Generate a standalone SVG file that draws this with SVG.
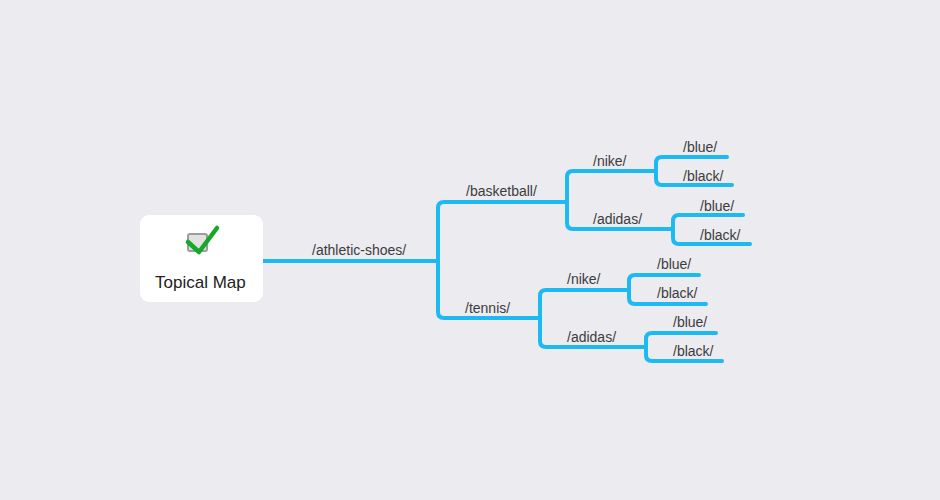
<svg xmlns="http://www.w3.org/2000/svg" width="940" height="500" viewBox="0 0 940 500">
<style>
.bg{fill:#ebebf0}
.card{fill:#ffffff}
.ln{fill:none;stroke:#1cb9f2;stroke-width:4;stroke-linecap:round;stroke-linejoin:round}
.lbl{font-family:"Liberation Sans",Arial,sans-serif;font-size:14px;fill:#3c3c3c}
.title{font-family:"Liberation Sans",Arial,sans-serif;font-size:17px;fill:#222}
</style>
<rect class="bg" x="0" y="0" width="940" height="500"/>
<g id="connectors">
<path class="ln" d="M263 261 H438"/>
<path class="ln" d="M438 261 V208 Q438 202 444 202 H567"/>
<path class="ln" d="M438 261 V312 Q438 318 444 318 H540"/>
<path class="ln" d="M567 202 V177 Q567 171 573 171 H656"/>
<path class="ln" d="M567 202 V223 Q567 229 573 229 H673"/>
<path class="ln" d="M656 171 V163 Q656 157 662 157 H727"/>
<path class="ln" d="M656 171 V179 Q656 185 662 185 H732"/>
<path class="ln" d="M673 229 V221 Q673 215 679 215 H743"/>
<path class="ln" d="M673 229 V238 Q673 244 679 244 H750"/>
<path class="ln" d="M540 318 V296 Q540 290 546 290 H629"/>
<path class="ln" d="M540 318 V341 Q540 347 546 347 H646"/>
<path class="ln" d="M629 290 V281 Q629 275 635 275 H699"/>
<path class="ln" d="M629 290 V298 Q629 304 635 304 H706"/>
<path class="ln" d="M646 347 V339 Q646 333 652 333 H716"/>
<path class="ln" d="M646 347 V355 Q646 361 652 361 H722"/>
</g>
<g id="root">
<rect class="card" x="140" y="215" width="123" height="87" rx="9"/>
<rect x="188" y="234" width="19" height="17" rx="2" fill="#e2e2e2" stroke="#9c9c9c" stroke-width="2"/>
<path d="M188 242 L199 252 L217 228" fill="none" stroke="#16a82a" stroke-width="4.5" stroke-linecap="round" stroke-linejoin="round"/>
<text class="title" x="155" y="288">Topical Map</text>
</g>
<g id="athletic-shoes"><text class="lbl" x="312" y="255">/athletic-shoes/</text></g>
<g id="basketball"><text class="lbl" x="466" y="196">/basketball/</text></g>
<g id="basketball-nike"><text class="lbl" x="593" y="166">/nike/</text></g>
<g id="basketball-nike-blue"><text class="lbl" x="683" y="152">/blue/</text></g>
<g id="basketball-nike-black"><text class="lbl" x="683" y="181">/black/</text></g>
<g id="basketball-adidas"><text class="lbl" x="593" y="224">/adidas/</text></g>
<g id="basketball-adidas-blue"><text class="lbl" x="700" y="211">/blue/</text></g>
<g id="basketball-adidas-black"><text class="lbl" x="700" y="240">/black/</text></g>
<g id="tennis"><text class="lbl" x="465" y="313">/tennis/</text></g>
<g id="tennis-nike"><text class="lbl" x="567" y="284">/nike/</text></g>
<g id="tennis-nike-blue"><text class="lbl" x="657" y="269">/blue/</text></g>
<g id="tennis-nike-black"><text class="lbl" x="657" y="298">/black/</text></g>
<g id="tennis-adidas"><text class="lbl" x="567" y="342">/adidas/</text></g>
<g id="tennis-adidas-blue"><text class="lbl" x="673" y="327">/blue/</text></g>
<g id="tennis-adidas-black"><text class="lbl" x="673" y="356">/black/</text></g>
</svg>
